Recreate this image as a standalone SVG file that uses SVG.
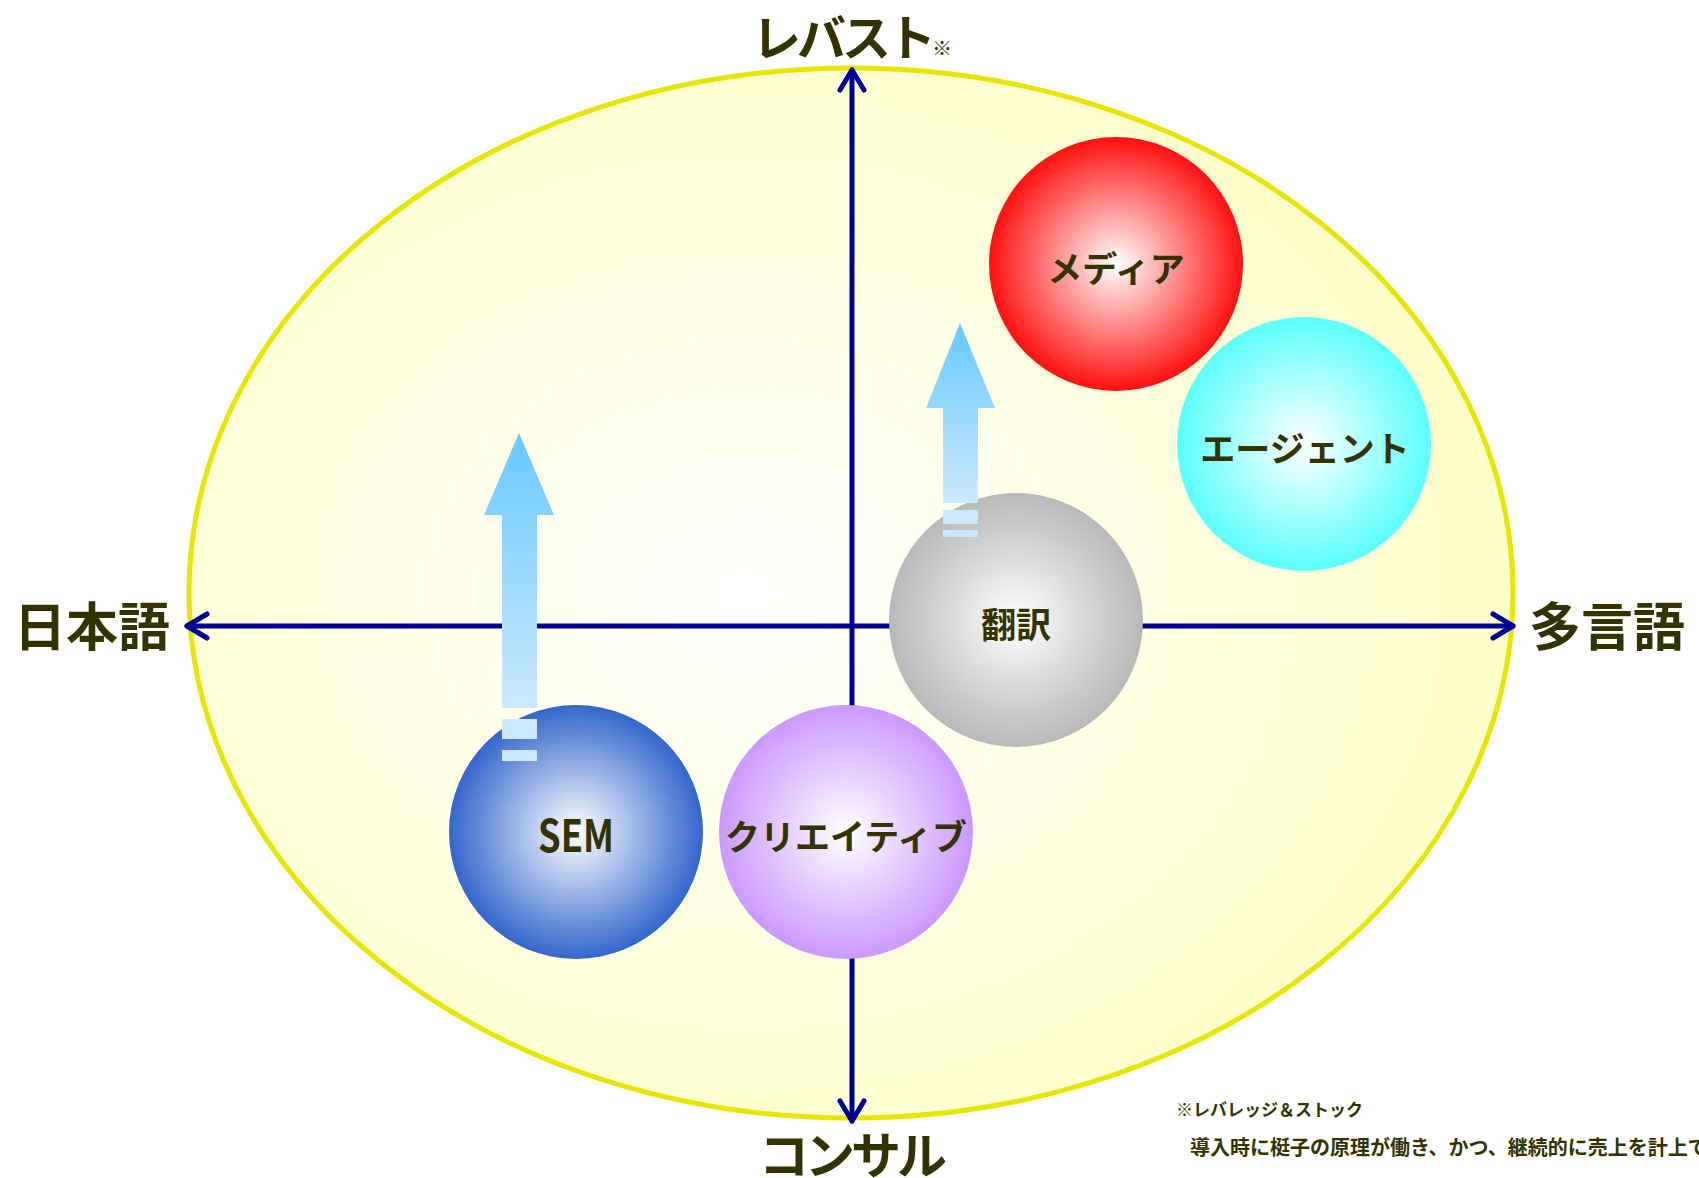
<svg xmlns="http://www.w3.org/2000/svg" width="1699" height="1178" viewBox="0 0 1699 1178">
<style>
.lbl{font-family:"Noto Sans CJK JP","Noto Sans",sans-serif;font-weight:bold;fill:#333300;}
.big{font-size:52px;}
.node{font-size:35px;text-anchor:middle;}
.axis{stroke:#000099;stroke-width:5;fill:none;stroke-linecap:round;stroke-linejoin:round;}
.bar{fill:#cce8ff;}
</style>
<defs>
<radialGradient id="gBg" cx="0.42" cy="0.5" r="0.55">
<stop offset="0" stop-color="#ffffff"/>
<stop offset="1" stop-color="#ffffcc"/>
</radialGradient>
<radialGradient id="gRed"><stop offset="0" stop-color="#ffffff"/><stop offset="1" stop-color="#ff1010"/></radialGradient>
<radialGradient id="gCyan"><stop offset="0" stop-color="#ffffff"/><stop offset="1" stop-color="#5cffff"/></radialGradient>
<radialGradient id="gGray"><stop offset="0" stop-color="#ffffff"/><stop offset="1" stop-color="#b8b8b8"/></radialGradient>
<radialGradient id="gBlue"><stop offset="0" stop-color="#ffffff"/><stop offset="1" stop-color="#3366cc"/></radialGradient>
<radialGradient id="gPurple"><stop offset="0" stop-color="#ffffff"/><stop offset="1" stop-color="#cc99ff"/></radialGradient>
<linearGradient id="gArrow" x1="0" y1="0" x2="0" y2="1">
<stop offset="0" stop-color="#66c8ff"/>
<stop offset="1" stop-color="#cce9ff"/>
</linearGradient>
</defs>
<rect width="1699" height="1178" fill="#ffffff"/>
<g id="background">
<ellipse cx="851" cy="593" rx="662" ry="525" fill="url(#gBg)" stroke="#e6e600" stroke-width="5"/>
</g>
<g id="connectors">
<line class="axis" x1="852" y1="70" x2="852" y2="1121"/>
<polyline class="axis" points="840,90 852,70 864,90"/>
<polyline class="axis" points="840,1101 852,1121 864,1101"/>
<line class="axis" x1="187" y1="626" x2="1513" y2="626"/>
<polyline class="axis" points="207,614 187,626 207,638"/>
<polyline class="axis" points="1493,614 1513,626 1493,638"/>
</g>
<g id="node-media">
<circle cx="1116" cy="264" r="127" fill="url(#gRed)"/>
<text class="lbl node" x="1116" y="282">メディア</text>
</g>
<g id="node-agent">
<circle cx="1304" cy="444" r="127" fill="url(#gCyan)"/>
<text class="lbl node" x="1305" y="462">エージェント</text>
</g>
<g id="node-honyaku">
<circle cx="1016" cy="620" r="127" fill="url(#gGray)"/>
<text class="lbl node" x="1016" y="638">翻訳</text>
</g>
<g id="node-sem">
<circle cx="576" cy="832" r="127" fill="url(#gBlue)"/>
<text class="lbl node" x="576" y="852" style="font-size:44px" textLength="76" lengthAdjust="spacingAndGlyphs">SEM</text>
</g>
<g id="node-creative">
<circle cx="846" cy="832" r="127" fill="url(#gPurple)"/>
<text class="lbl node" x="846" y="850">クリエイティブ</text>
</g>
<g id="arrow-sem">
<path d="M519,433 L554,515 L537,515 L537,708 L502,708 L502,515 L484,515 Z" fill="url(#gArrow)"/>
<rect class="bar" x="502" y="719" width="35" height="20"/>
<rect class="bar" x="502" y="750" width="35" height="11"/>
</g>
<g id="arrow-honyaku">
<path d="M960,323 L995,408 L978,408 L978,503 L943,503 L943,408 L926,408 Z" fill="url(#gArrow)"/>
<rect class="bar" x="943" y="510" width="35" height="14"/>
<rect class="bar" x="943" y="530" width="35" height="7"/>
</g>
<g id="labels">
<text class="lbl" x="752" y="56" style="font-size:49px;letter-spacing:-4px">レバスト<tspan style="font-size:20px;letter-spacing:0">※</tspan></text>
<text class="lbl big" x="14" y="646">日本語</text>
<text class="lbl big" x="1529" y="646">多言語</text>
<text class="lbl" x="759" y="1174" style="font-size:50px;letter-spacing:-4px">コンサル</text>
<text class="lbl" x="1176" y="1116" style="font-size:17px">※レバレッジ＆ストック</text>
<text class="lbl" x="1190" y="1155" style="font-size:20px">導入時に梃子の原理が働き、かつ、継続的に売上を計上で</text>
</g>
</svg>
